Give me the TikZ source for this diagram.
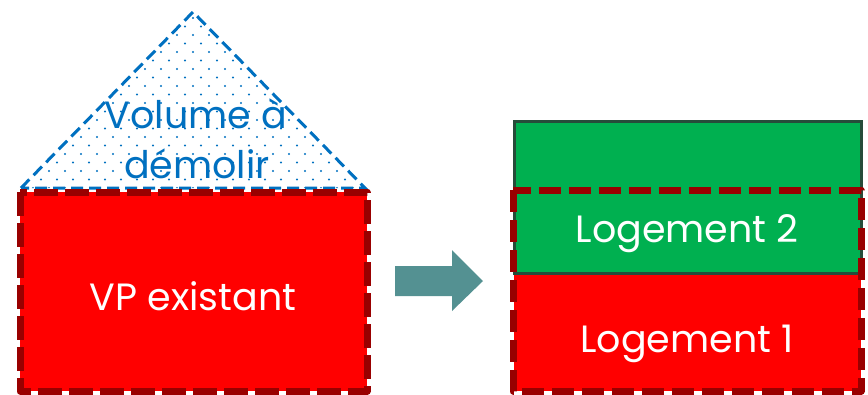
\documentclass[tikz,border=0pt]{standalone}
\usepackage{fontspec}
\setmainfont{Poppins}
\usepackage{tikz}
\definecolor{vpred}{RGB}{255,0,0}
\definecolor{vpdark}{RGB}{153,0,0}
\definecolor{loggreen}{RGB}{0,176,80}
\definecolor{logedge}{RGB}{38,76,58}
\definecolor{demblue}{RGB}{0,112,192}
\definecolor{arrowteal}{RGB}{84,145,146}

\begin{document}
\begin{tikzpicture}[
  x=1pt, y=-1pt,
  boxtext/.style={font=\fontsize{38}{40}\selectfont, inner sep=0pt, anchor=base},
  vpline/.style={draw=vpdark, line width=7pt, dash pattern=on 24pt off 7pt, line join=round},
  demline/.style={draw=demblue, line width=3pt, dash pattern=on 12pt off 6pt},
]
\useasboundingbox (0,0) rectangle (868,394);

% Volume a demolir (dotted roof)
\begin{scope}
  \clip (21,188) -- (193,12) -- (365,188) -- cycle;
  \foreach \j in {0,...,10}
    \foreach \k in {0,...,23} {
      \fill[demblue] ({1+16*\k}, {18+17*\j}) circle (1.1pt);
      \fill[demblue] ({9+16*\k}, {26.5+17*\j}) circle (1.1pt);
    }
\end{scope}
\draw[demline] (21,188) -- (193,12) -- (365,188) -- cycle;

% VP existant
\fill[vpred] (20,192) rectangle (367,391);
\draw[vpline] (20,192) rectangle (367,391);

% Arrow
\fill[arrowteal] (395,266) -- (452,266) -- (452,250) -- (483,281)
  -- (452,311) -- (452,296) -- (395,296) -- cycle;

% Logements
\fill[vpred] (514,273) rectangle (861,391);
\draw[logedge, line width=3pt, fill=loggreen] (514,121) rectangle (861,273);
\draw[vpline, dash pattern=on 22pt off 8pt] (513,190) rectangle (861,391);

% Nodes
\node[boxtext, demblue] (volume) at (196,128) {Volume à};
\node[boxtext, demblue] (demolir) at (197,178) {démolir};
\node[boxtext, white] (vp) at (193,310) {VP existant};
\node[boxtext, white] (log2) at (687,242) {Logement 2};
\node[boxtext, white] (log1) at (687,352) {Logement 1};

\end{tikzpicture}
\end{document}
